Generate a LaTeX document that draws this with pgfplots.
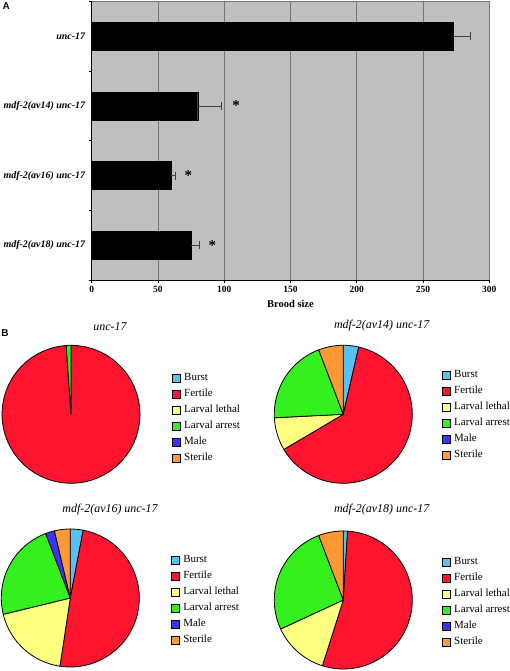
\documentclass[border=0pt]{standalone}
\usepackage{fontspec}
\setmainfont{Liberation Serif}
\newfontfamily\arialfont{Liberation Sans}
\usepackage{pgfplots}
\pgfplotsset{compat=1.18}
\definecolor{cburst}{HTML}{55C2F5}
\definecolor{cfert}{HTML}{FF1430}
\definecolor{cll}{HTML}{FFFF80}
\definecolor{cla}{HTML}{33F01E}
\definecolor{cmale}{HTML}{3C32FF}
\definecolor{cster}{HTML}{FF9933}
\newcommand\slice[3]{%
  \addplot[fill=#3, draw=black, line width=0.8bp, line join=round, forget plot,
    domain={90-3.6*(#2)}:{90-3.6*(#1)}, samples=60, variable=\t]
    ({cos(\t)},{sin(\t)}) -- (axis cs:0,0) -- cycle;
}
\newcommand\pielegend{%
  \addlegendimage{fill=cburst}\addlegendentry{Burst}
  \addlegendimage{fill=cfert}\addlegendentry{Fertile}
  \addlegendimage{fill=cll}\addlegendentry{Larval lethal}
  \addlegendimage{fill=cla}\addlegendentry{Larval arrest}
  \addlegendimage{fill=cmale}\addlegendentry{Male}
  \addlegendimage{fill=cster}\addlegendentry{Sterile}
}
\pgfplotsset{
  pie/.style={scale only axis, width=138bp, height=138bp,
    xmin=-1, xmax=1, ymin=-1, ymax=1, hide axis, clip=false,
    anchor=south west,
    title style={anchor=center, font=\itshape\fontsize{12}{14}\selectfont},
    legend image code/.code={\draw[##1, draw=black, line width=0.5bp] (0bp,-4bp) rectangle (8bp,4bp);},
    legend cell align=left,
    legend style={draw=none, fill=none, inner sep=0pt, outer sep=0pt,
      anchor=west, font=\fontsize{11}{13}\selectfont, row sep=5bp,
      nodes={inner sep=0pt, outer sep=0pt, text height=8bp, text depth=3bp},
      /tikz/every odd column/.style={column sep=4bp}},
  }
}
\begin{document}
\begin{tikzpicture}
\useasboundingbox (0,0) rectangle (510bp,671bp);
\node[font=\arialfont\bfseries\fontsize{10}{12}\selectfont] at (6.3bp,664.7bp) {A};
\node[font=\arialfont\bfseries\fontsize{10}{12}\selectfont] at (5bp,338bp) {B};
% ---- A: brood size ----
\begin{axis}[
  at={(91.7bp,391bp)}, anchor=south west,
  scale only axis, width=397.6bp, height=278.3bp,
  xmin=0, xmax=300, ymin=-0.5, ymax=3.5,
  axis lines*=left, axis line style={black, line width=0.8bp},
  axis background/.style={fill=black!25, draw=black!55, line width=0.8bp},
  xtick={0,50,...,300}, xmajorgrids, grid style={black!55, line width=0.8bp},
  ytick={0,1,2,3},
  yticklabels={mdf-2(av18) unc-17, mdf-2(av16) unc-17, mdf-2(av14) unc-17, unc-17},
  minor ytick={-0.5,0.5,1.5,2.5,3.5},
  major y tick style={draw=none},
  minor y tick style={black, line width=0.8bp},
  x tick style={black, line width=0.8bp},
  tick align=outside, major tick length=3bp, minor tick length=3bp,
  xtick pos=bottom, ytick pos=left,
  /pgf/number format/assume math mode=true,
  xticklabel style={font=\bfseries\fontsize{9.5}{11}\selectfont},
  yticklabel style={font=\bfseries\itshape\fontsize{10}{12}\selectfont},
  xlabel={Brood size},
  xlabel style={font=\bfseries\fontsize{10.5}{12}\selectfont},
]
\addplot[xbar, fill=black, draw=black, bar width=28bp,
  error bars/.cd, x dir=plus, x explicit, error mark=|,
  error bar style={black!75, line width=0.8bp},
  error mark options={black!75, line width=0.8bp, mark size=4bp}]
  coordinates {(273,3) +- (13,0) (80,2) +- (18,0) (60,1) +- (3.5,0) (75,0) +- (6,0)};
\addplot[draw=none, mark=none,
  nodes near coords={\fontsize{15}{15}\selectfont\bfseries *},
  nodes near coords align={center}]
  coordinates {(109,2) (73,1) (91,0)};
\end{axis}
% ---- B: pies ----
\begin{axis}[pie, at={(2bp,187.7bp)}, title={unc-17},
  title style={at={(0.783,1)}, yshift=12.3bp},
  legend style={at={(1.23,0.473)}}]
\slice{0}{98.9}{cfert}
\slice{98.9}{100}{cla}
\pielegend
\end{axis}
\begin{axis}[pie, at={(274.3bp,187.7bp)}, title={mdf-2(av14) unc-17},
  title style={at={(0.778,1)}, yshift=13.6bp},
  legend style={at={(1.213,0.492)}}]
\slice{0}{3.6}{cburst}
\slice{3.6}{66.5}{cfert}
\slice{66.5}{74.2}{cll}
\slice{74.2}{94.2}{cla}
\slice{94.2}{100}{cster}
\pielegend
\end{axis}
\begin{axis}[pie, at={(1.3bp,4bp)}, title={mdf-2(av16) unc-17},
  title style={at={(0.788,1)}, yshift=13.3bp},
  legend style={at={(1.228,0.486)}}]
\slice{0}{3.0}{cburst}
\slice{3.0}{52.4}{cfert}
\slice{52.4}{71.2}{cll}
\slice{71.2}{94.2}{cla}
\slice{94.2}{96.3}{cmale}
\slice{96.3}{100}{cster}
\pielegend
\end{axis}
\begin{axis}[pie, at={(274.3bp,2bp)}, title={mdf-2(av18) unc-17},
  title style={at={(0.778,1)}, yshift=15.3bp},
  legend style={at={(1.213,0.486)}}]
\slice{0}{1.0}{cburst}
\slice{1.0}{54.9}{cfert}
\slice{54.9}{68.1}{cll}
\slice{68.1}{94.2}{cla}
\slice{94.2}{100}{cster}
\pielegend
\end{axis}
\end{tikzpicture}
\end{document}
